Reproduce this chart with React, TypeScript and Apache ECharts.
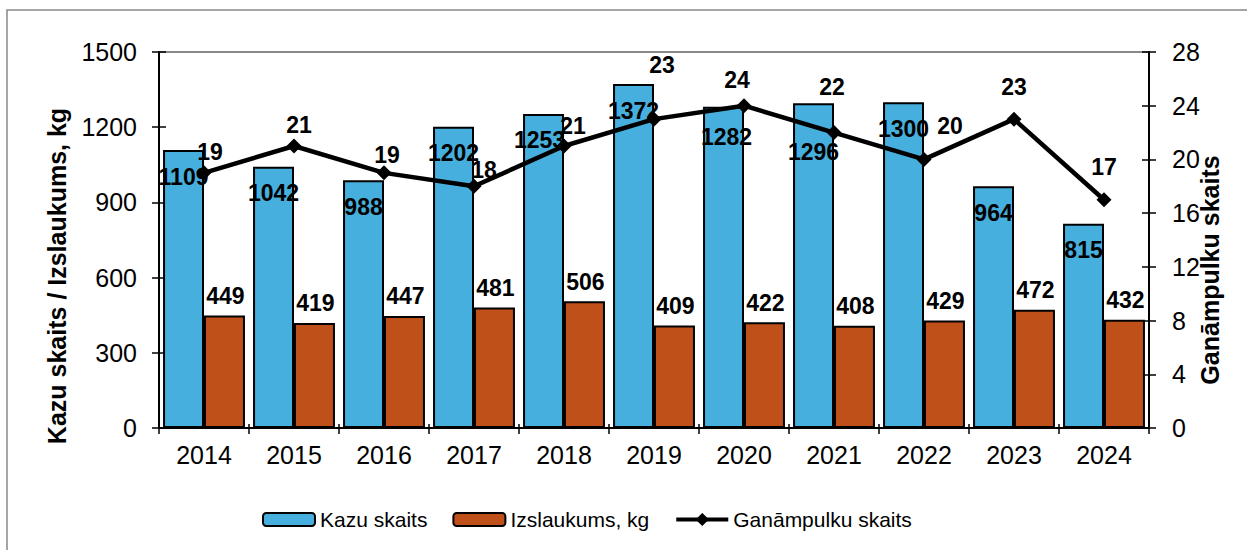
import React, { useEffect, useRef } from "react";
import * as echarts from "echarts";

const years = ["2014", "2015", "2016", "2017", "2018", "2019", "2020", "2021", "2022", "2023", "2024"];
const kazuSkaits = [1109, 1042, 988, 1202, 1253, 1372, 1282, 1296, 1300, 964, 815];
const izslaukums = [449, 419, 447, 481, 506, 409, 422, 408, 429, 472, 432];
const ganampulkuSkaits = [19, 21, 19, 18, 21, 23, 24, 22, 20, 23, 17];

// label placement tweaks (styling only)
const lineLabelOffsets = [
  [6, -21], [5, -21], [3, -18], [10, -16], [9, -20], [8, -54],
  [-7, -26], [-2, -46], [26, -33], [0, -32], [0, -33],
];
const kazuLabelOffsets = [
  [0, 0], [0, 0], [0, 0], [0, 0], [-4, 0], [0, 0],
  [3, 4], [0, 22], [0, 0], [0, 0], [0, 0],
];

const FONT = "'Liberation Sans', Arial, sans-serif";
const BLUE = "#47AFDE";
const ORANGE = "#C0501A";

export default function App() {
  const ref = useRef<HTMLDivElement>(null);

  useEffect(() => {
    if (!ref.current) return;
    const chart = echarts.init(ref.current, undefined, { renderer: "svg" });
    const labelBase = {
      fontFamily: FONT,
      fontWeight: "bold" as const,
      fontSize: 23,
      color: "#000",
    };
    const axisLabelBase = {
      fontFamily: FONT,
      fontSize: 25,
      color: "#000",
      formatter: (v: number | string) => String(v),
    };
    const axisLineBase = { show: true, lineStyle: { color: "#000", width: 2 } };

    chart.setOption({
      animation: false,
      backgroundColor: "#fff",
      textStyle: { fontFamily: FONT },
      grid: {
        left: 159,
        right: 98,
        top: 52,
        bottom: 122,
        show: true,
        borderColor: "#888",
        borderWidth: 2,
        backgroundColor: "transparent",
      },
      legend: {
        left: 257,
        top: 504,
        itemWidth: 52,
        itemHeight: 13,
        itemGap: 25,
        itemStyle: { borderColor: "#000", borderWidth: 2 },
        lineStyle: { width: 4, color: "#000" },
        textStyle: { fontFamily: FONT, fontSize: 21, color: "#000" },
        data: ["Kazu skaits", "Izslaukums, kg", "Ganāmpulku skaits"],
      },
      xAxis: [
        {
          type: "category",
          data: years,
          axisLine: axisLineBase,
          axisTick: { show: true, length: 6, lineStyle: { color: "#000", width: 1.5 } },
          axisLabel: { ...axisLabelBase, margin: 14 },
          splitLine: { show: false },
        },
        {
          type: "category",
          data: years,
          position: "bottom",
          axisLine: { show: false },
          axisTick: { show: true, inside: true, length: 4, lineStyle: { color: "#000", width: 1.5 } },
          axisLabel: { show: false },
          splitLine: { show: false },
        },
      ],
      yAxis: [
        {
          type: "value",
          position: "left",
          min: 0,
          max: 1500,
          interval: 300,
          axisLine: axisLineBase,
          axisTick: { show: true, length: 7, lineStyle: { color: "#000", width: 1.5 } },
          axisLabel: { ...axisLabelBase, margin: 22 },
          splitLine: { show: false },
        },
        {
          type: "value",
          position: "right",
          min: 0,
          max: 28,
          interval: 4,
          axisLine: axisLineBase,
          axisTick: { show: true, length: 7, lineStyle: { color: "#000", width: 1.5 } },
          axisLabel: { ...axisLabelBase, margin: 23 },
          splitLine: { show: false },
        },
        {
          type: "value",
          position: "left",
          min: 0,
          max: 1500,
          interval: 300,
          axisLine: { show: false },
          axisTick: { show: true, inside: true, length: 7, lineStyle: { color: "#000", width: 1.5 } },
          axisLabel: { show: false },
          splitLine: { show: false },
        },
        {
          type: "value",
          position: "right",
          min: 0,
          max: 28,
          interval: 4,
          axisLine: { show: false },
          axisTick: { show: true, inside: true, length: 7, lineStyle: { color: "#000", width: 1.5 } },
          axisLabel: { show: false },
          splitLine: { show: false },
        },
      ],
      series: [
        {
          name: "Kazu skaits",
          type: "bar",
          barGap: "0%",
          barCategoryGap: "9%",
          itemStyle: { color: BLUE, borderColor: "#000", borderWidth: 2 },
          label: { show: true, position: "insideTop", distance: 15, ...labelBase },
          data: kazuSkaits.map((v, i) => ({
            value: v,
            label: { offset: kazuLabelOffsets[i] },
          })),
        },
        {
          name: "Izslaukums, kg",
          type: "bar",
          barGap: "0%",
          barCategoryGap: "9%",
          itemStyle: { color: ORANGE, borderColor: "#000", borderWidth: 2 },
          label: { show: true, position: "top", distance: 8, offset: [1, 0], ...labelBase },
          data: izslaukums,
        },
        {
          name: "Ganāmpulku skaits",
          type: "line",
          yAxisIndex: 1,
          z: 5,
          symbol: "diamond",
          symbolSize: 15,
          lineStyle: { color: "#000", width: 4.5 },
          itemStyle: { color: "#000" },
          label: { show: true, position: "inside", ...labelBase },
          data: ganampulkuSkaits.map((v, i) => ({
            value: v,
            label: { offset: lineLabelOffsets[i] },
          })),
        },
      ],
      graphic: [
        {
          type: "rect",
          shape: { x: 7, y: 10, width: 1300, height: 600 },
          style: { fill: "none", stroke: "#888", lineWidth: 1.5 },
          silent: true,
        },
        {
          type: "text",
          x: 57,
          y: 276,
          rotation: Math.PI / 2,
          style: {
            text: "Kazu skaits / Izslaukums, kg",
            font: `bold 25px ${FONT}`,
            fill: "#000",
            textAlign: "center",
            textVerticalAlign: "middle",
          },
        },
        {
          type: "text",
          x: 1210,
          y: 270,
          rotation: Math.PI / 2,
          style: {
            text: "Ganāmpulku skaits",
            font: `bold 25px ${FONT}`,
            fill: "#000",
            textAlign: "center",
            textVerticalAlign: "middle",
          },
        },
      ],
    });
    return () => chart.dispose();
  }, []);

  return (
    <div
      ref={ref}
      style={{ position: "fixed", left: 0, top: 0, width: 1247, height: 550 }}
    />
  );
}
